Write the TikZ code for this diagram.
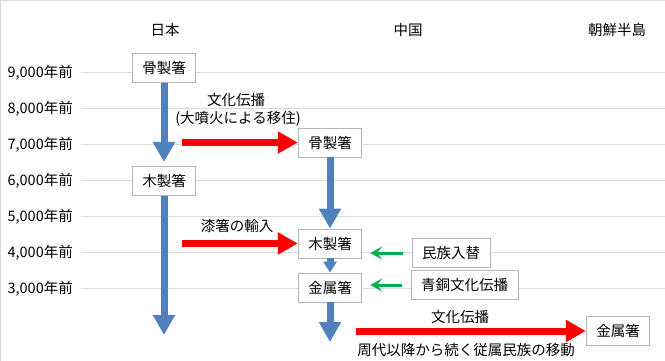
\documentclass[tikz,border=0pt]{standalone}
\usepackage{fontspec}
\setmainfont{Noto Sans CJK JP}
\usetikzlibrary{arrows.meta}

\begin{document}
\begin{tikzpicture}[x=1pt,y=-1pt,
    txt/.style={font=\fontsize{14.5}{17}\selectfont},
    box/.style={txt,draw=boxgray,fill=white,line width=0.8pt,
      inner xsep=10pt,inner ysep=0pt,minimum height=29pt},
    bluearr/.style={draw=steel,line width=7pt,-{Triangle[length=20pt,width=21pt]}},
    redarr/.style={draw=red,line width=7pt,-{Triangle[length=20pt,width=21pt]}},
    greenarr/.style={draw=grn,line width=3pt,-{Stealth[length=12pt,width=13pt,inset=5pt]}}]
  \definecolor{steel}{RGB}{79,129,189}
  \definecolor{grn}{RGB}{0,176,80}
  \definecolor{boxgray}{RGB}{180,180,180}
  \definecolor{gridgray}{RGB}{217,217,217}
  \definecolor{frame}{RGB}{214,214,230}
  \useasboundingbox (0,0) rectangle (665,361);
  \draw[frame,line width=1pt] (0.5,361) -- (0.5,0.5) -- (665,0.5);

  % time axis
  \foreach \k/\yr in {0/9,1/8,2/7,3/6,4/5,5/4,6/3}{
    \draw[gridgray,line width=0.8pt] (81,72.5+36*\k) -- (665,72.5+36*\k);
    \node[txt,anchor=east,inner sep=0pt] (yr\yr) at (73,72.5+36*\k) {\yr,000年前};}
  \foreach \x/\reg/\name in {165/日本/jp,408/中国/cn,617/朝鮮半島/kr}
    \node[txt] (h\name) at (\x,30) {\reg};

  % boxes
  \node[box] (jbone) at (164,68) {骨製箸};
  \node[box] (jwood) at (164,181) {木製箸};
  \node[box] (cbone) at (330,142.5) {骨製箸};
  \node[box] (cwood) at (330,243.5) {木製箸};
  \node[box] (cmetal) at (330,287.5) {金属箸};
  \node[box] (kmetal) at (618,331) {金属箸};
  \node[box] (swap) at (451,253) {民族入替};
  \node[box] (bronze) at (464.5,285) {青銅文化伝播};

  % free ends
  \coordinate (jtip1) at (164,162);
  \coordinate (jtip2) at (164,335);
  \coordinate (ctip) at (330,342);
  \coordinate (r1) at (182,142.5);
  \coordinate (r2) at (182,243.5);
  \coordinate (r3) at (356,331);

  % downward lines
  \draw[bluearr] (jbone) -- (jtip1);
  \draw[bluearr] (jwood) -- (jtip2);
  \draw[bluearr] (cbone) -- (cwood);
  \draw[draw=steel,line width=7pt,-{Triangle[length=11pt,width=13pt]}] (cwood) -- (cmetal);
  \draw[bluearr] (cmetal) -- (ctip);

  % transfers
  \draw[redarr] (r1) -- (cbone);
  \draw[redarr] (r2) -- (cwood);
  \draw[redarr] (r3) -- (kmetal);
  \draw[greenarr,shorten <=9pt,shorten >=8pt] (swap.west) -- (cwood.east |- swap.west);
  \draw[greenarr,shorten <=9pt,shorten >=8pt] (bronze.west) -- (cmetal.east |- bronze.west);

  % labels
  \node[txt] (l1) at (236,100) {文化伝播};
  \node[txt] (l2) at (238,118.5) {(大噴火による移住)};
  \node[txt] (l3) at (237,226) {漆箸の輸入};
  \node[txt] (l4) at (460,317) {文化伝播};
  \node[txt] (l5) at (466,350) {周代以降から続く従属民族の移動};
\end{tikzpicture}
\end{document}
